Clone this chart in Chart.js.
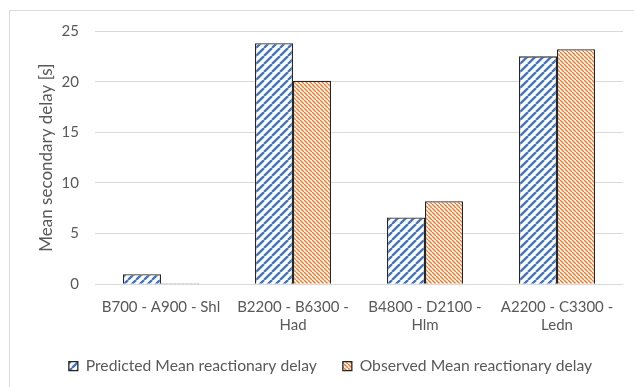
<!DOCTYPE html>
<html>
<head>
<meta charset="utf-8">
<script src="https://cdn.jsdelivr.net/npm/chart.js@4"></script>
<style>
  html, body { margin: 0; padding: 0; background: #fff; }
  #wrap { position: relative; width: 634px; height: 387px; }
</style>
</head>
<body>
<div id="wrap"><canvas id="chart" width="634" height="387"></canvas></div>
<script>
// data
const categories = [
  "B700 - A900 - Shl",
  ["B2200 - B6300 -", "Had"],
  ["B4800 - D2100 -", "Hlm"],
  ["A2200 - C3300 -", "Ledn"]
];
const predicted = [1.0, 23.8, 6.6, 22.5];
const observed = [0.1, 20.1, 8.2, 23.2];
const yTicks = [0, 5, 10, 15, 20, 25];

// hatch fills like the office chart
function hatch(color, size, width, up) {
  const c = document.createElement("canvas");
  c.width = size; c.height = size;
  const g = c.getContext("2d");
  g.fillStyle = "#fff";
  g.fillRect(0, 0, size, size);
  g.strokeStyle = color;
  g.lineWidth = width;
  for (let o = -size; o <= size; o += size) {
    g.beginPath();
    if (up) { g.moveTo(o, size); g.lineTo(o + size, 0); }
    else { g.moveTo(o, 0); g.lineTo(o + size, size); }
    g.stroke();
  }
  return g.createPattern(c, "repeat");
}

const ctx = document.getElementById("chart").getContext("2d");
const bluePat = hatch("#4472C4", 8, 2.3, true);
const orangePat = hatch("#ED7D31", 4, 1.5, false);

// outer frame (top and left edges show)
const frame = {
  id: "frame",
  beforeDraw(chart) {
    const c = chart.ctx;
    c.save();
    c.strokeStyle = "#d9d9d9";
    c.lineWidth = 1;
    c.beginPath();
    c.moveTo(9.5, 387);
    c.lineTo(9.5, 10.5);
    c.lineTo(634, 10.5);
    c.stroke();
    c.restore();
  }
};

Chart.defaults.font.family = "Lato, 'Open Sans', sans-serif";
Chart.defaults.color = "#595959";

new Chart(ctx, {
  type: "bar",
  data: {
    labels: categories,
    datasets: [
      {
        label: "Predicted Mean reactionary delay",
        data: predicted,
        backgroundColor: bluePat,
        borderColor: "#262626",
        borderWidth: 1.3
      },
      {
        label: "Observed Mean reactionary delay",
        data: observed,
        backgroundColor: orangePat,
        borderColor: "#262626",
        borderWidth: 1.3
      }
    ]
  },
  options: {
    responsive: false,
    animation: false,
    layout: { padding: { left: 38, right: 11, top: 31, bottom: 3 } },
    datasets: { bar: { categoryPercentage: 0.576, barPercentage: 1 } },
    scales: {
      x: {
        grid: { display: false },
        border: { display: false },
        ticks: { font: { size: 15 }, color: "#595959", maxRotation: 0, padding: 6 },
        afterFit(s) { s.height = 48; }
      },
      y: {
        min: 0,
        max: 25,
        afterBuildTicks(s) { s.ticks = yTicks.map(v => ({ value: v })); },
        grid: { color: "#d9d9d9", drawTicks: false },
        border: { display: false },
        ticks: { font: { size: 15 }, color: "#595959", padding: 16 },
        title: {
          display: true,
          text: "Mean secondary delay [s]",
          font: { size: 17 },
          color: "#595959",
          padding: { top: -2, bottom: 0 }
        },
        afterFit(s) { s.width = 57; }
      }
    },
    plugins: {
      legend: {
        position: "bottom",
        labels: {
          boxWidth: 9,
          boxHeight: 9,
          font: { size: 15.7 },
          color: "#595959",
          padding: 26
        }
      },
      tooltip: { enabled: false }
    }
  },
  plugins: [frame]
});
</script>
</body>
</html>
